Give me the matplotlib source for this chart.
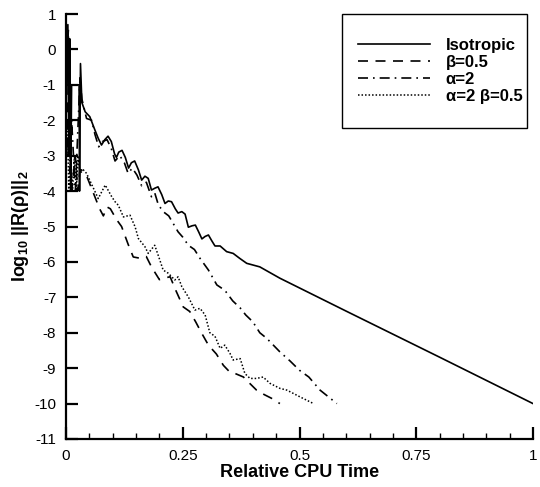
import numpy as np
import matplotlib
matplotlib.use("Agg")
import matplotlib.pyplot as plt
from matplotlib.patches import Rectangle
from matplotlib.ticker import MultipleLocator, FixedLocator, FixedFormatter

plt.rcParams['font.family'] = ['Liberation Sans', 'DejaVu Sans']
plt.rcParams['axes.unicode_minus'] = False
plt.rcParams['mathtext.fontset'] = 'custom'
plt.rcParams['mathtext.rm'] = 'Liberation Sans'
plt.rcParams['mathtext.bf'] = 'Liberation Sans:bold'
plt.rcParams['mathtext.it'] = 'Liberation Sans:italic'

# convergence histories: relative CPU time vs log10 of residual
iso_t = [0.001, 0.004, 0.006, 0.008, 0.010, 0.012, 0.028, 0.029, 0.031, 0.034,
         0.041, 0.051, 0.062, 0.069, 0.076, 0.083, 0.090, 0.097, 0.104, 0.108,
         0.113, 0.120, 0.127, 0.134, 0.140, 0.147, 0.155, 0.162, 0.169, 0.176,
         0.183, 0.190, 0.197, 0.205, 0.212, 0.219, 0.226, 0.234, 0.240, 0.248,
         0.255, 0.262, 0.270, 0.277, 0.284, 0.291, 0.298, 0.305, 0.312, 0.319,
         0.330, 0.344, 0.358, 0.372, 0.387, 0.415, 0.458, 0.600, 0.800, 1.000]
iso_r = [-1.0, 0.7, -3.0, 0.3, -4.0, -1.0, -1.0, -4.0, -0.4, -1.5,
         -1.76, -1.9, -2.28, -2.51, -2.7, -2.55, -2.45, -2.6, -2.95, -3.05,
         -2.9, -2.85, -3.05, -3.35, -3.2, -3.15, -3.4, -3.69, -3.58, -3.64,
         -3.97, -3.92, -3.88, -4.1, -4.35, -4.28, -4.3, -4.5, -4.62, -4.58,
         -4.65, -5.02, -4.98, -4.96, -5.15, -5.35, -5.28, -5.24, -5.4, -5.55,
         -5.55, -5.71, -5.76, -5.9, -6.04, -6.14, -6.46, -7.39, -8.69, -10.0]

beta_t = [0.002, 0.004, 0.008, 0.012, 0.020, 0.025, 0.030, 0.033, 0.045, 0.060,
          0.072, 0.080, 0.088, 0.095, 0.108, 0.119, 0.133, 0.144, 0.160, 0.172,
          0.183, 0.200, 0.212, 0.223, 0.235, 0.251, 0.265, 0.278, 0.290, 0.305,
          0.322, 0.337, 0.350, 0.362, 0.380, 0.395, 0.408, 0.425, 0.440, 0.458]
beta_r = [-1.0, -3.0, -2.0, -4.0, -3.0, -4.0, -3.4, -3.4, -3.6, -4.1,
          -4.5, -4.7, -4.45, -4.5, -4.8, -5.0, -5.5, -5.86, -5.9, -5.85,
          -6.14, -6.5, -6.45, -6.42, -6.8, -7.27, -7.4, -7.7, -8.0, -8.35,
          -8.6, -8.92, -9.1, -9.15, -9.25, -9.45, -9.62, -9.75, -9.85, -10.0]

alpha_t = [0.002, 0.005, 0.008, 0.012, 0.020, 0.030, 0.034, 0.044, 0.055, 0.062,
           0.070, 0.078, 0.088, 0.097, 0.105, 0.115, 0.125, 0.133, 0.142, 0.152,
           0.162, 0.172, 0.183, 0.190, 0.198, 0.210, 0.220, 0.240, 0.250, 0.262,
           0.275, 0.287, 0.305, 0.323, 0.340, 0.357, 0.373, 0.385, 0.400, 0.415,
           0.430, 0.458, 0.480, 0.500, 0.520, 0.544, 0.580]
alpha_r = [-1.0, 0.6, -3.5, -2.0, -4.0, -0.8, -1.4, -1.95, -2.0, -2.4,
           -2.75, -2.6, -2.55, -2.8, -3.15, -3.0, -3.2, -3.5, -3.35, -3.55,
           -3.85, -3.75, -4.16, -4.05, -4.4, -4.6, -4.7, -5.15, -5.3, -5.53,
           -5.65, -5.9, -6.23, -6.65, -6.8, -7.1, -7.3, -7.5, -7.69, -8.0,
           -8.16, -8.54, -8.8, -9.06, -9.25, -9.62, -10.0]

ab_t = [0.003, 0.006, 0.010, 0.014, 0.018, 0.022, 0.026, 0.030, 0.037, 0.044,
        0.069, 0.084, 0.098, 0.105, 0.112, 0.123, 0.137, 0.148, 0.155, 0.169,
        0.176, 0.190, 0.201, 0.208, 0.219, 0.233, 0.240, 0.248, 0.262, 0.276,
        0.287, 0.298, 0.308, 0.319, 0.330, 0.340, 0.351, 0.358, 0.373, 0.383,
        0.394, 0.408, 0.422, 0.437, 0.458, 0.473, 0.501, 0.530]
ab_r = [-2.0, -4.0, -3.0, -4.0, -3.0, -4.0, -3.0, -3.5, -3.4, -3.5,
        -4.21, -3.83, -4.16, -4.3, -4.4, -4.73, -4.68, -5.01, -5.34, -5.57,
        -5.76, -5.53, -5.95, -6.23, -6.32, -6.51, -6.42, -6.7, -6.99, -7.36,
        -7.31, -7.5, -8.0, -8.1, -8.44, -8.35, -8.58, -8.77, -8.73, -9.15,
        -9.29, -9.29, -9.25, -9.43, -9.57, -9.62, -9.81, -10.0]

labels = ['Isotropic', 'β=0.5', 'α=2', 'α=2 β=0.5']
xticks = [0, 0.25, 0.5, 0.75, 1]
xticklabels = ['0', '0.25', '0.5', '0.75', '1']

W, H = 540, 487
fig = plt.figure(figsize=(W / 100, H / 100), dpi=100)
ax = fig.add_axes([66 / W, 1 - 439 / H, 467 / W, 425 / H])

lw = 1.2
ax.plot(iso_t, iso_r, color='black', lw=lw, ls='-', label=labels[0])
ax.plot(beta_t, beta_r, color='black', lw=lw, ls=(0, (6, 4.5)), label=labels[1])
ax.plot(alpha_t, alpha_r, color='black', lw=lw, ls=(0, (6, 3, 1, 3)), label=labels[2])
ax.plot(ab_t, ab_r, color='black', lw=1.1, ls=(0, (1, 1.3)), label=labels[3])

ax.set_xlim(0, 1)
ax.set_ylim(-11, 1)
ax.xaxis.set_major_locator(FixedLocator(xticks))
ax.xaxis.set_major_formatter(FixedFormatter(xticklabels))
ax.xaxis.set_minor_locator(MultipleLocator(0.05))
ax.yaxis.set_major_locator(MultipleLocator(1))

for s in ['top', 'right']:
    ax.spines[s].set_visible(False)
for s in ['left', 'bottom']:
    ax.spines[s].set_linewidth(1.6)

ax.tick_params(axis='both', which='major', direction='in', length=8.5, width=1.6,
               labelsize=11, pad=7)
ax.tick_params(axis='x', which='minor', direction='in', length=4.5, width=1)

ax.set_xlabel('Relative CPU Time', fontsize=13, fontweight='bold', labelpad=1)
ax.set_ylabel(r'$\mathbf{log_{10}\ ||R(\rho)||_2}$', fontsize=13, labelpad=2)

# legend box drawn separately (padding is not symmetric in the original)
fig.patches.append(Rectangle((343 / W, 1 - 129 / H), 185 / W, 114 / H,
                             transform=fig.transFigure, facecolor='#888888',
                             edgecolor='none', zorder=4))
fig.patches.append(Rectangle((342 / W, 1 - 128 / H), 185 / W, 114 / H,
                             transform=fig.transFigure, facecolor='white',
                             edgecolor='black', lw=1.0, zorder=5))
handles, _ = ax.get_legend_handles_labels()
leg = fig.legend(handles, labels, loc='upper left',
                 bbox_to_anchor=(358 / W, 1 - 38 / H),
                 bbox_transform=fig.transFigure, frameon=False,
                 handlelength=4.3, handletextpad=0.95, borderpad=0,
                 labelspacing=0.12, borderaxespad=0,
                 prop={'weight': 'bold', 'size': 12})
leg.set_zorder(6)

fig.savefig('out.png', dpi=100)
